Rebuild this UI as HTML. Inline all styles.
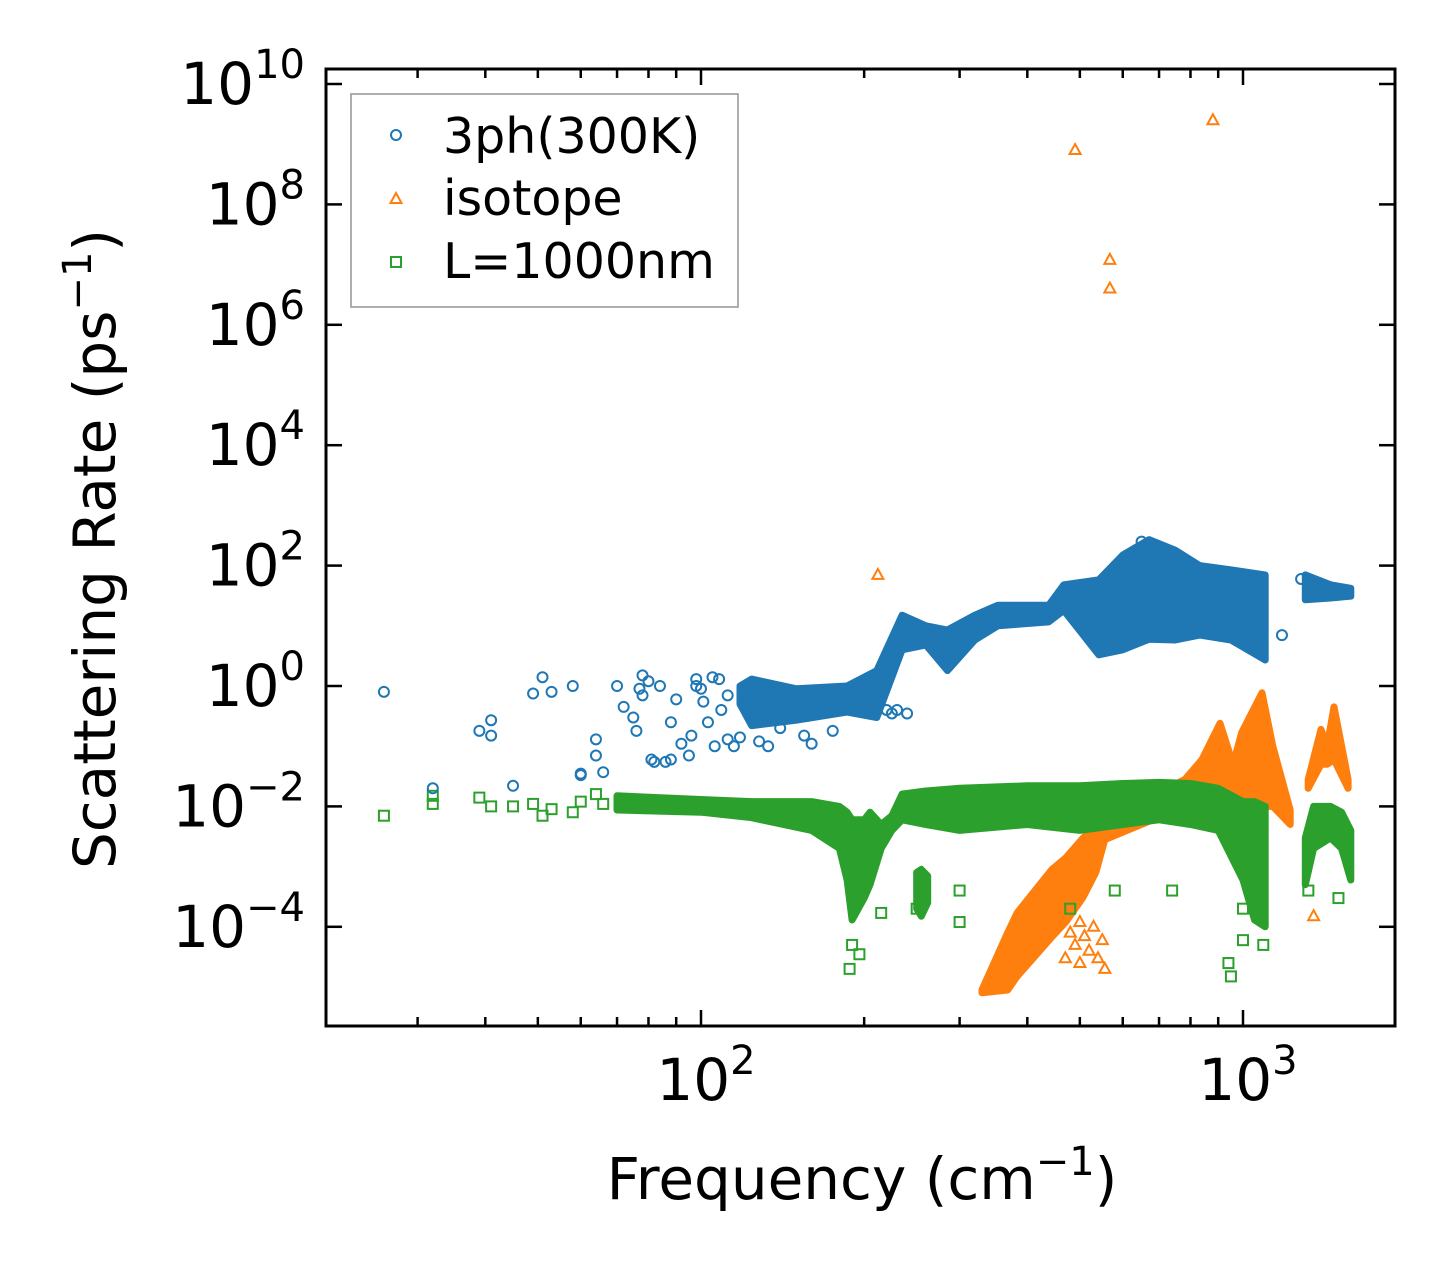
<!DOCTYPE html>
<html><head><meta charset="utf-8"><style>
body{margin:0;background:#fff}
svg{display:block}
text{font-family:"DejaVu Sans","Liberation Sans",sans-serif;fill:#000}
</style></head><body>
<svg id="chart" width="1455" height="1275" viewBox="0 0 1455 1275" xmlns="http://www.w3.org/2000/svg">
<rect x="326" y="69" width="1069" height="957" fill="#fff"/>
<g id="marks"></g>
<g id="axes"></g>
<g id="legend">
<rect x="351" y="94" width="387" height="213" fill="#fff" stroke="#999" stroke-width="1.6"/>
<circle cx="396" cy="135" r="5" fill="none" stroke="#1f77b4" stroke-width="2"/>
<text x="443" y="153" font-size="49">3ph(300K)</text>
<polygon points="396,193 401.5,203 390.5,203" fill="none" stroke="#ff7f0e" stroke-width="2"/>
<text x="443" y="215" font-size="49">isotope</text>
<rect x="391" y="257" width="10" height="10" fill="none" stroke="#2ca02c" stroke-width="2"/>
<text x="443" y="278" font-size="49">L=1000nm</text>
</g>
</svg>
<script>
// ---- data ----
const blueBandFreq=[118,124,150,186,211,235,260,285,320,353,438,467,542,600,671,750,832,950,1099];
const blueBandHi=[1.0,1.3,0.9,1.0,1.8,15,10,8.5,15,22,22,48,58,150,270,180,100,85,70];
const blueBandLo=[0.5,0.22,0.27,0.37,0.3,4,4.8,1.8,5.8,10,11.6,18,3.3,4,6,5.8,7,5.8,2.7];
const blueBand2Freq=[1303,1450,1581];
const blueBand2Hi=[70,48,42];
const blueBand2Lo=[27,29,31];
const bluePtsFreq=[26,32,39,41,41,45,49,51,53,58,60,60,64,64,66,70,72,75,76,77,78,78,80,81,82,84,86,88,88,90,92,95,96,98,98,100,101,103,105,106,108,109,112,112,115,118,121,125,128,133,140,155,160,175,215,220,225,1180,230,240,650,700,1280];
const bluePtsRate=[0.8,0.02,0.18,0.27,0.15,0.022,0.75,1.4,0.8,1.0,0.035,0.033,0.07,0.13,0.037,1.0,0.45,0.3,0.18,0.9,1.5,0.7,1.2,0.06,0.055,1.0,0.055,0.25,0.06,0.6,0.11,0.07,0.15,1.0,1.3,0.9,0.55,0.25,1.4,0.1,1.3,0.4,0.7,0.13,0.1,0.14,0.5,0.3,0.12,0.1,0.2,0.15,0.11,0.18,2,0.4,0.35,7,0.4,0.35,250,200,60];

const orBandFreq=[330,368,383,444,471,507,535,556,781,840,907,959,995,1084,1135,1222];
const orBandHi=[9e-6,8e-5,1.7e-4,9e-4,1.4e-3,3e-3,4.5e-3,6e-3,0.028,0.06,0.24,0.05,0.17,0.77,0.1,8.7e-3];
const orBandLo=[8e-6,8.9e-6,1.5e-5,6.8e-5,1.2e-4,3.1e-4,8e-4,2.8e-3,0.01,0.01,0.01,0.01,0.01,0.01,0.01,5e-3];
const orBand2Freq=[1319,1393,1430,1472,1563];
const orBand2Hi=[0.028,0.19,0.1,0.45,0.028];
const orBand2Lo=[0.02,0.05,0.05,0.06,0.02];
const orPtsFreq=[212,490,568,568,880,1350,460,480,490,500,510,520,530,540,550,556,470,500];
const orPtsRate=[70,8e8,1.2e7,4e6,2.5e9,1.5e-4,1.5e-4,8e-5,5e-5,1.2e-4,7e-5,4e-5,1e-4,3e-5,6e-5,2e-5,3e-5,2.5e-5];

const grBandFreq=[70,100,124,160,180,186,190,200,205,215,225,235,260,300,400,500,600,700,800,900,1000,1050,1099];
const grBandHi=[0.015,0.013,0.012,0.012,0.01,0.008,0.006,0.006,0.008,0.005,0.007,0.016,0.018,0.02,0.022,0.022,0.024,0.025,0.024,0.02,0.012,0.012,0.01];
const grBandLo=[0.0087,0.008,0.0065,0.004,0.002,6e-4,1.3e-4,3e-4,5e-4,0.002,0.004,0.006,0.005,0.004,0.005,0.004,0.005,0.006,0.005,0.004,6e-4,1.3e-4,1e-4];
const grBand2Freq=[250,255,262];
const grBand2Hi=[8e-4,9e-4,7e-4];
const grBand2Lo=[2e-4,1.5e-4,2.5e-4];
const grBand3Freq=[1303,1350,1450,1520,1581];
const grBand3Hi=[0.003,0.01,0.01,0.008,0.004];
const grBand3Lo=[5e-4,0.002,0.003,0.002,6e-4];
const grPtsFreq=[26,32,32,39,41,45,49,51,53,58,60,64,66,188,190,196,215,250,300,300,580,740,940,950,1000,1090,1000,480,1320,1500];
const grPtsRate=[7e-3,1.5e-2,1.1e-2,1.4e-2,1.0e-2,1.0e-2,1.1e-2,7e-3,9e-3,8e-3,1.2e-2,1.6e-2,1.1e-2,2e-5,5e-5,3.5e-5,1.7e-4,2e-4,1.2e-4,4e-4,4e-4,4e-4,2.5e-5,1.5e-5,6e-5,5e-5,2e-4,2e-4,4e-4,3e-4];

const xTickVals=[100,1000];
const xTickExp=["2","3"];
const yTickVals=[1e-4,1e-2,1,1e2,1e4,1e6,1e8,1e10];
const yTickExp=["−4","−2","0","2","4","6","8","10"];

// ---- axes functions ----
const L=326,R=1395,T=69,B=1026;
const X0=701, XDEC=542;
function xs(f){return X0+XDEC*(Math.log10(f)-2);}
const Y0=686, YDEC=60.2;
function ys(v){return Y0-YDEC*Math.log10(v);}
const NS="http://www.w3.org/2000/svg";
function mk(tag,attrs,parent){const e=document.createElementNS(NS,tag);for(const k in attrs)e.setAttribute(k,attrs[k]);parent.appendChild(e);return e;}
const marks=document.getElementById('marks');
const axes=document.getElementById('axes');
mk('clipPath',{id:'clip'},marks);
mk('rect',{x:L,y:T,width:R-L,height:B-T},document.getElementById('clip'));
marks.setAttribute('clip-path','url(#clip)');

function band(fr,hi,lo,color,name){
  let pts=[];
  for(let i=0;i<fr.length;i++)pts.push(xs(fr[i]).toFixed(1)+','+ys(hi[i]).toFixed(1));
  for(let i=fr.length-1;i>=0;i--)pts.push(xs(fr[i]).toFixed(1)+','+ys(lo[i]).toFixed(1));
  const p=mk('polygon',{points:pts.join(' '),fill:color,stroke:color,'stroke-width':7,'stroke-linejoin':'round'},marks);
  
  
}
function circles(fr,rt,color,name){
  for(let i=0;i<fr.length;i++){
    const c=mk('circle',{cx:xs(fr[i]),cy:ys(rt[i]),r:5,fill:'none',stroke:color,'stroke-width':2},marks);
    
    
  }
}
function tris(fr,rt,color,name){
  for(let i=0;i<fr.length;i++){
    const x=xs(fr[i]),y=ys(rt[i]);
    const t=mk('polygon',{points:`${x},${y-6} ${x+5.5},${y+4} ${x-5.5},${y+4}`,fill:'none',stroke:color,'stroke-width':2},marks);
    
    
  }
}
function squares(fr,rt,color,name){
  for(let i=0;i<fr.length;i++){
    const s=mk('rect',{x:xs(fr[i])-5,y:ys(rt[i])-5,width:10,height:10,fill:'none',stroke:color,'stroke-width':2},marks);
    
    
  }
}
band(orBandFreq,orBandHi,orBandLo,'#ff7f0e','isotope-dense-band');
band(orBand2Freq,orBand2Hi,orBand2Lo,'#ff7f0e','isotope-dense-band-2');
band(grBandFreq,grBandHi,grBandLo,'#2ca02c','boundary-dense-band');
band(grBand2Freq,grBand2Hi,grBand2Lo,'#2ca02c','boundary-dense-band-2');
band(grBand3Freq,grBand3Hi,grBand3Lo,'#2ca02c','boundary-dense-band-3');
squares(grPtsFreq,grPtsRate,'#2ca02c','boundary-point');
tris(orPtsFreq,orPtsRate,'#ff7f0e','isotope-point');
band(blueBandFreq,blueBandHi,blueBandLo,'#1f77b4','3ph-dense-band');
band(blueBand2Freq,blueBand2Hi,blueBand2Lo,'#1f77b4','3ph-dense-band-2');
circles(bluePtsFreq,bluePtsRate,'#1f77b4','3ph-point');

// frame
const fr=mk('rect',{x:L,y:T,width:R-L,height:B-T,fill:'none',stroke:'#000','stroke-width':3},axes);


for(let d=10;d<=1000;d*=10){
  for(let m=1;m<10;m++){
    const v=d*m, x=xs(v);
    if(x<L||x>R)continue;
    const major=(m===1), len=major?16:9;
    const t1=mk('line',{x1:x,y1:B,x2:x,y2:B-len,stroke:'#000','stroke-width':2.5},axes);
    
    
    const t2=mk('line',{x1:x,y1:T,x2:x,y2:T+len,stroke:'#000','stroke-width':2.5},axes);
    
    
  }
}
for(let i=0;i<xTickVals.length;i++){
  const x=xs(xTickVals[i]);
  const t=mk('text',{x:x+5,y:1100,'font-size':58,'text-anchor':'middle'},axes);
  
  
  t.innerHTML='10<tspan dy="-26" font-size="40">'+xTickExp[i]+'</tspan>';
}
for(let i=0;i<yTickVals.length;i++){
  const y=ys(yTickVals[i]);
  const a=mk('line',{x1:L,y1:y,x2:L+16,y2:y,stroke:'#000','stroke-width':2.5},axes);
  
  
  const b=mk('line',{x1:R,y1:y,x2:R-16,y2:y,stroke:'#000','stroke-width':2.5},axes);
  
  
  const t=mk('text',{x:305,y:y+20,'font-size':58,'text-anchor':'end'},axes);
  
  
  t.innerHTML='10<tspan dy="-26" font-size="40">'+yTickExp[i]+'</tspan>';
}
const xt=mk('text',{x:862,y:1199,'font-size':58,'text-anchor':'middle'},axes);


xt.innerHTML='Frequency (cm<tspan dy="-24" font-size="40">−1</tspan><tspan dy="24">)</tspan>';
const yt=mk('text',{x:0,y:0,'font-size':58,'text-anchor':'middle',transform:'translate(115,549) rotate(-90)'},axes);


yt.innerHTML='Scattering Rate (ps<tspan dy="-24" font-size="40">−1</tspan><tspan dy="24">)</tspan>';
</script>
</body></html>
